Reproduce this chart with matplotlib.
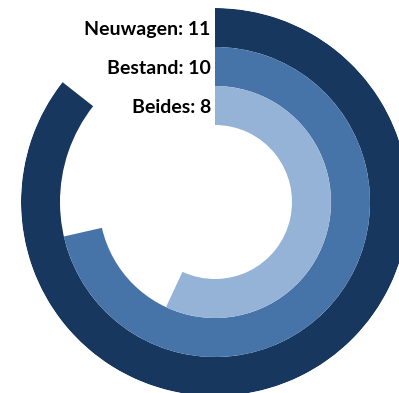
import numpy as np
import matplotlib
matplotlib.use("Agg")
from matplotlib import pyplot as plt

labels = ["Neuwagen", "Bestand", "Beides"]
values = [11, 10, 8]
# value that one full turn of each ring stands for (read off the arc lengths)
full_turn = [12.85, 14.0, 14.05]
colors = ["#17375E", "#4674A9", "#95B3D7"]

W, H = 399, 393
cx, cy, R = 215, 202, 194
ring = 39
hole = R - 3 * ring

fig = plt.figure(figsize=(W / 100, H / 100), dpi=100)
ax = fig.add_axes([(cx - R) / W, (H - cy - R) / H, 2 * R / W, 2 * R / H], projection="polar")
ax.set_theta_zero_location("N")
ax.set_theta_direction(-1)

for i, (lab, v, tot, c) in enumerate(zip(labels, values, full_turn, colors)):
    bottom = R - (i + 1) * ring
    width = v / tot * 2 * np.pi
    ax.bar(width / 2, ring, width=width, bottom=bottom, color=c, edgecolor="none")
    ax.annotate(f"{lab}: {v}", xy=(0, bottom + ring / 2), xytext=(-3, -1.5),
                textcoords="offset points", ha="right", va="center",
                fontsize=14, fontweight="bold", family="Lato", color="black")

ax.set_ylim(0, R)
ax.set_axis_off()
fig.savefig("out.png", dpi=100)
